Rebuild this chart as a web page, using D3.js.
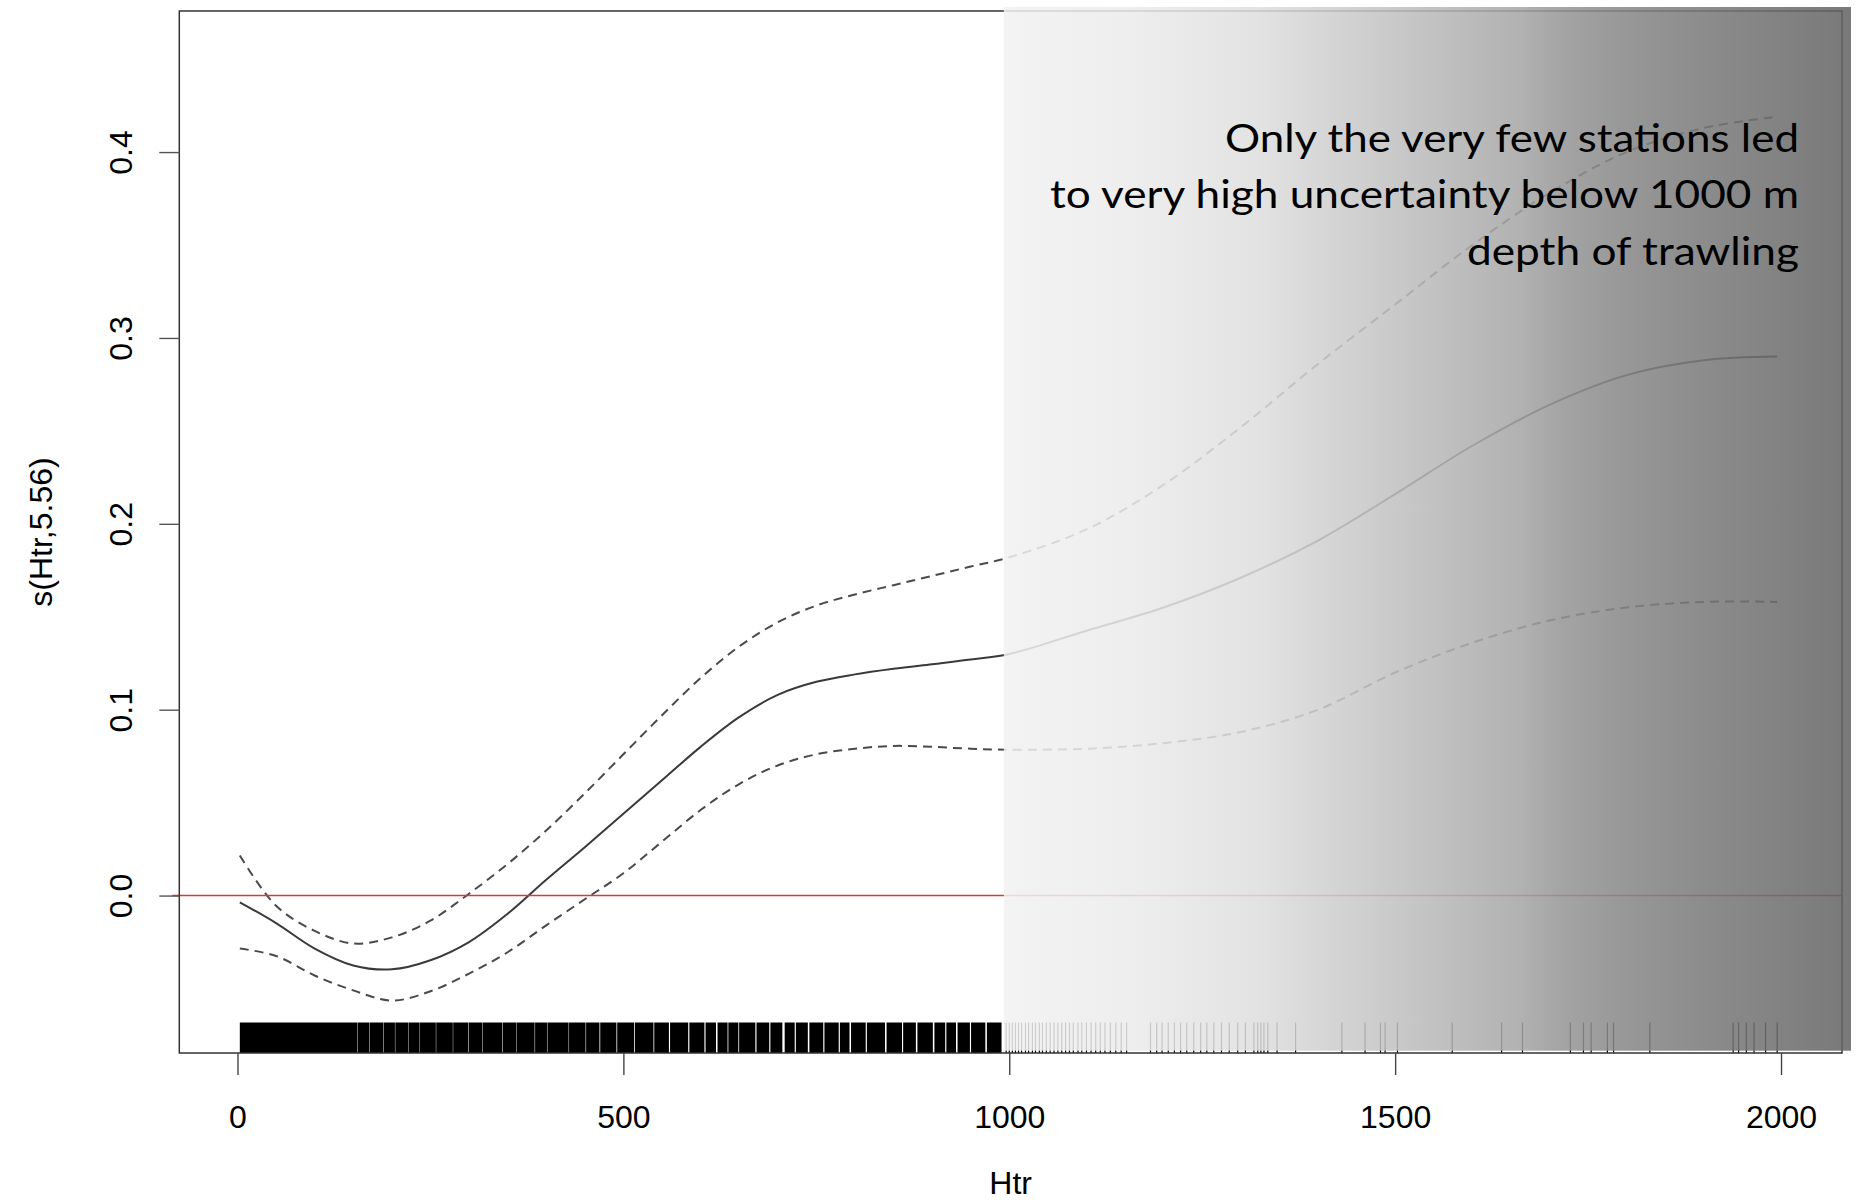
<!DOCTYPE html>
<html>
<head>
<meta charset="utf-8">
<script src="https://cdnjs.cloudflare.com/ajax/libs/d3/7.8.5/d3.min.js"></script>
<style>
body { margin: 0; background: #fff; }
svg { display: block; }
text { font-family: "Liberation Sans", Arial, sans-serif; }
</style>
</head>
<body>
<svg id="chart" width="1858" height="1203"></svg>
<script>
var depth = [3, 50, 100, 150, 200, 250, 300, 350, 400, 450, 500, 550, 600, 650, 700, 750, 800, 850, 900, 950,
             1000, 1100, 1200, 1300, 1400, 1500, 1600, 1700, 1800, 1900, 1995];
// fitted smooth s(Htr,5.56)
var fit = [-0.0036, -0.0148, -0.0285, -0.0376, -0.0397, -0.0348, -0.025, -0.0098, 0.0085, 0.026, 0.044, 0.062, 0.080, 0.096, 0.108, 0.115, 0.119, 0.122, 0.1245, 0.127,
           0.130, 0.1425, 0.155, 0.171, 0.191, 0.216, 0.242, 0.264, 0.280, 0.288, 0.290];
// upper and lower confidence bands (dashed)
var upper = [0.0215, -0.0055, -0.019, -0.0258, -0.0225, -0.0135, 0.001, 0.017, 0.035, 0.055, 0.076, 0.097, 0.117, 0.134, 0.147, 0.156, 0.162, 0.167, 0.172, 0.177,
             0.182, 0.197, 0.221, 0.252, 0.286, 0.318, 0.350, 0.378, 0.400, 0.413, 0.419];
var lower = [-0.0285, -0.0325, -0.043, -0.051, -0.0565, -0.0515, -0.042, -0.0305, -0.016, -0.002, 0.012, 0.029, 0.046, 0.060, 0.070, 0.076, 0.079, 0.0805, 0.080, 0.079,
             0.0785, 0.079, 0.082, 0.088, 0.100, 0.120, 0.136, 0.148, 0.155, 0.158, 0.158];

// rug: dense stretches of stations drawn as solid blocks, then single stations
var rugBands = [[3,155],[155.5,171],[171.5,189],[189.5,204],[204.5,221],[221.5,236],[236.5,257],[257.5,279],
                [279.5,299],[299.6,317],[317.5,343],[343.6,361],[361.5,385],[385.6,401],[401.6,429],[429.6,451],
                [451.7,469],[470,491],[492,514],[515,539],[540,559],[560.5,584],[585.5,605],[606.5,620],[622,635],
                [636,649],[650,671],[672.5,689],[690.5,706],[709,722],[723.5,739],[741,759],[760.5,779],
                [780.5,793],[795,814],[815.5,839],[841,861],[862.5,879],[881,901],[903,917],[918.5,931],
                [933,949],[950.5,969],[971,990]];
var rugTicks = [996,1000,1004,1008,1012,1016,1021,1025,1030,1034,1039,1043,1048,1053,1058,1063,1068,1073,1078,
                1083,1089,1094,1100,1106,1112,1118,1124,1131,1138,1145,1152,1183,1191,1198,1206,1214,1222,1230,
                1239,1248,1256,1265,1275,1285,1296,1306,1317,1322,1326,1330,1335,1347,1371,1431,1461,1481,1487,
                1503,1574,1638,1665,1727,1744,1754,1775,1783,1830,1938,1945,1955,1965,1980,1995];

var xTicks = [0, 500, 1000, 1500, 2000];
var yTicks = [0.0, 0.1, 0.2, 0.3, 0.4];
var shadeFrom = 993;

// grey shade: offset (%) and grey level
var shadeStops = [[0,241],[15,235],[30,222],[47,191],[61,165],[66,149],[75,132],[85,118],[94,107],[100,99]];

var noteLines = ['Only the very few stations led',
                 'to very high uncertainty below 1000 m',
                 'depth of trawling'];
var noteWidths = [574, 749, 332];

var svg = d3.select('#chart');
var svgWidth = +svg.attr('width');
var svgHeight = +svg.attr('height');

var box = {l: 179.3, r: 1842, t: 11, b: 1053};

var xScale = d3.scaleLinear().domain([-75.4, 2079]).range([box.l, box.r]);
var yScale = d3.scaleLinear().domain([-0.0847, 0.4759]).range([box.b, box.t]);

svg.append('rect').attr('width', svgWidth).attr('height', svgHeight).attr('fill', '#fff');

// curves
function lineFor(vals) {
    return d3.line()
        .x(function(d, i) { return xScale(depth[i]); })
        .y(function(d) { return yScale(d); })
        .curve(d3.curveCatmullRom.alpha(0.5))(vals);
}

svg.append('path').attr('d', lineFor(fit))
    .attr('fill', 'none').attr('stroke', '#3a3a3a').attr('stroke-width', 2);
[upper, lower].forEach(function(v) {
    svg.append('path').attr('d', lineFor(v))
        .attr('fill', 'none').attr('stroke', '#4a4a4a').attr('stroke-width', 2)
        .attr('stroke-dasharray', '9,6');
});

// zero line
svg.append('line')
    .attr('x1', box.l - 7).attr('x2', box.r)
    .attr('y1', yScale(0)).attr('y2', yScale(0))
    .attr('stroke', '#d8393b').attr('stroke-width', 1.6);

// rug
var rugTop = box.b - 30.5;
svg.append('g').selectAll('rect')
    .data(rugBands).enter().append('rect')
    .attr('x', function(d) { return xScale(d[0]); })
    .attr('width', function(d) { return xScale(d[1]) - xScale(d[0]); })
    .attr('y', rugTop).attr('height', box.b - rugTop)
    .attr('fill', '#000');
svg.append('g').selectAll('line')
    .data(rugTicks).enter().append('line')
    .attr('x1', function(d) { return xScale(d); })
    .attr('x2', function(d) { return xScale(d); })
    .attr('y1', rugTop).attr('y2', box.b)
    .attr('stroke', '#000').attr('stroke-width', 1.2);

// plot frame
svg.append('rect')
    .attr('x', box.l).attr('y', box.t)
    .attr('width', box.r - box.l).attr('height', box.b - box.t)
    .attr('fill', 'none').attr('stroke', '#333').attr('stroke-width', 1.5);

// axes
var xAxis = svg.append('g')
    .attr('transform', 'translate(0,' + box.b + ')')
    .call(d3.axisBottom(xScale).tickValues(xTicks).tickSize(22).tickPadding(0).tickFormat(d3.format('d')));
xAxis.select('.domain').remove();
xAxis.selectAll('line').attr('stroke', '#444').attr('stroke-width', 1.4);
xAxis.selectAll('text')
    .attr('y', 75).attr('dy', null)
    .attr('fill', '#000').style('font-size', '32px');

var yAxis = svg.append('g')
    .attr('transform', 'translate(' + box.l + ',0)')
    .call(d3.axisLeft(yScale).tickValues(yTicks).tickSize(20).tickFormat(d3.format('.1f')));
yAxis.select('.domain').remove();
yAxis.selectAll('line').attr('stroke', '#555').attr('stroke-width', 1.4);
yAxis.selectAll('text')
    .attr('x', null).attr('dy', null)
    .attr('text-anchor', 'middle')
    .attr('transform', 'translate(-47,0) rotate(-90)')
    .attr('fill', '#000').style('font-size', '32px');

// axis titles
svg.append('text')
    .attr('x', (box.l + box.r) / 2).attr('y', 1194)
    .attr('text-anchor', 'middle').style('font-size', '32px')
    .text('Htr');
svg.append('text')
    .attr('transform', 'translate(52,' + (box.t + box.b) / 2 + ') rotate(-90)')
    .attr('text-anchor', 'middle').style('font-size', '32px')
    .text('s(Htr,5.56)');

// fading grey shade over the poorly supported depths
var grad = svg.append('defs').append('linearGradient')
    .attr('id', 'shade').attr('x1', '0%').attr('x2', '100%').attr('y1', '0%').attr('y2', '0%');
grad.selectAll('stop').data(shadeStops).enter().append('stop')
    .attr('offset', function(d) { return d[0] + '%'; })
    .attr('stop-color', function(d) { return d3.rgb(d[1], d[1], d[1]); });

svg.append('rect')
    .attr('x', xScale(shadeFrom)).attr('y', box.t - 4)
    .attr('width', box.r + 9 - xScale(shadeFrom)).attr('height', box.b - 2.3 - (box.t - 4))
    .attr('fill', 'url(#shade)').attr('opacity', 0.86);

// annotation
var note = svg.append('g');
note.selectAll('text').data(noteLines).enter().append('text')
    .attr('x', function(d, i) { return 1799 - noteWidths[i]; })
    .attr('y', function(d, i) { return 151.7 + i * 56.6; })
    .attr('textLength', function(d, i) { return noteWidths[i]; })
    .attr('lengthAdjust', 'spacingAndGlyphs')
    .style('font-family', 'Lato, "Open Sans", sans-serif')
    .style('font-size', '38px')
    .attr('fill', '#000')
    .text(function(d) { return d; });
</script>
</body>
</html>
